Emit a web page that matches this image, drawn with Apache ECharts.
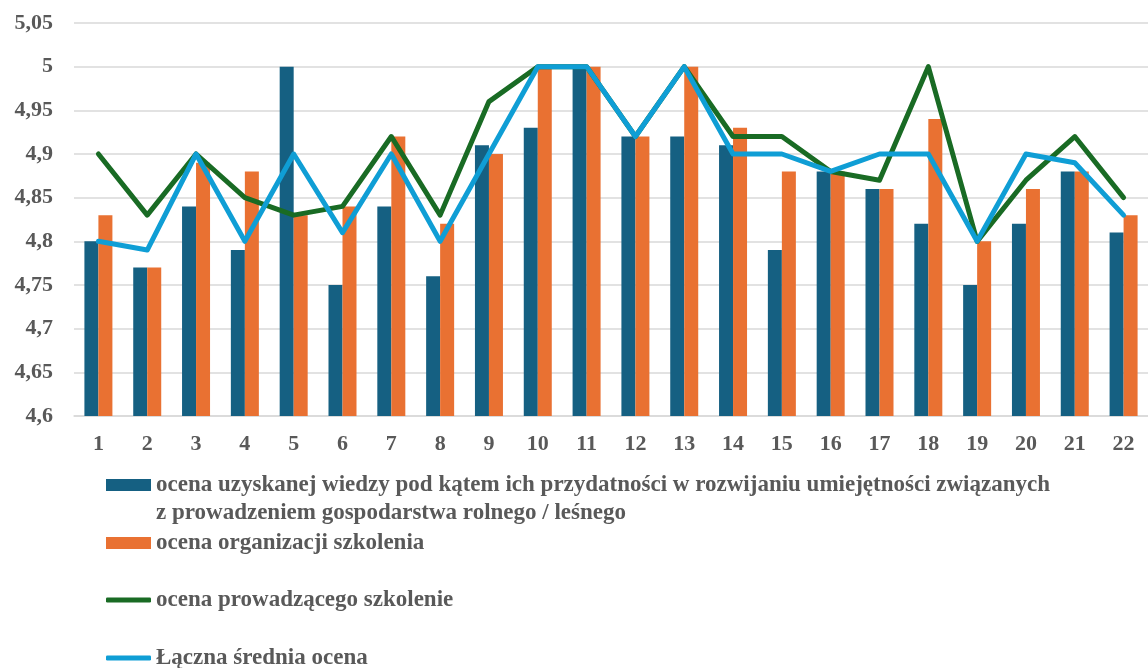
<!DOCTYPE html>
<html>
<head>
<meta charset="utf-8">
<title>Ocena szkoleń</title>
<script src="https://cdn.jsdelivr.net/npm/echarts@6/dist/echarts.min.js"></script>
<style>
  html, body { margin: 0; padding: 0; background: #fff; }
  #chart { width: 1148px; height: 668px; }
</style>
</head>
<body>
<div id="chart"></div>
<script>
// numery szkoleń
const categories = ['1', '2', '3', '4', '5', '6', '7', '8', '9', '10', '11',
  '12', '13', '14', '15', '16', '17', '18', '19', '20', '21', '22']

// ocena uzyskanej wiedzy
const knowledge = [4.80, 4.77, 4.84, 4.79, 5.00, 4.75, 4.84, 4.76, 4.91, 4.93, 5.00,
  4.92, 4.92, 4.91, 4.79, 4.88, 4.86, 4.82, 4.75, 4.82, 4.88, 4.81]
// ocena organizacji szkolenia
const organisation = [4.83, 4.77, 4.89, 4.88, 4.83, 4.84, 4.92, 4.82, 4.90, 5.00, 5.00,
  4.92, 5.00, 4.93, 4.88, 4.88, 4.86, 4.94, 4.80, 4.86, 4.88, 4.83]
// ocena prowadzącego
const trainer = [4.90, 4.83, 4.90, 4.85, 4.83, 4.84, 4.92, 4.83, 4.96, 5.00, 5.00,
  4.92, 5.00, 4.92, 4.92, 4.88, 4.87, 5.00, 4.80, 4.87, 4.92, 4.85]
// łączna średnia
const overall = [4.80, 4.79, 4.90, 4.80, 4.90, 4.81, 4.90, 4.80, 4.90, 5.00, 5.00,
  4.92, 5.00, 4.90, 4.90, 4.88, 4.90, 4.90, 4.80, 4.90, 4.89, 4.83]

const seriesNames = [
  'ocena uzyskanej wiedzy pod kątem ich przydatności w rozwijaniu umiejętności związanych\nz prowadzeniem gospodarstwa rolnego / leśnego',
  'ocena organizacji szkolenia',
  'ocena prowadzącego szkolenie',
  'Łączna średnia ocena'
]

const FONT = '"Liberation Serif", "Times New Roman", serif'
const TEXT = '#595959'

const chart = echarts.init(document.getElementById('chart'))

// legenda - każda pozycja osobno (top = środek ikony - 14)
const legendText = {
  color: TEXT,
  fontFamily: FONT,
  fontWeight: 'bold',
  fontSize: 23,
  lineHeight: 28
}
const legends = [
  // pusta pierwsza linia, żeby ikona stała przy pierwszym wierszu tekstu
  { top: 443, icon: 'rect', itemHeight: 12, name: seriesNames[0], fmt: n => '\n' + n },
  { top: 529, icon: 'rect', itemHeight: 12, name: seriesNames[1] },
  { top: 586, icon: 'roundRect', itemHeight: 5, name: seriesNames[2] },
  { top: 644, icon: 'roundRect', itemHeight: 5, name: seriesNames[3] }
].map(l => ({
  left: 106,
  top: l.top,
  padding: 0,
  icon: l.icon,
  itemWidth: 45,
  itemHeight: l.itemHeight,
  itemGap: 0,
  selectedMode: false,
  formatter: l.fmt || (n => n),
  textStyle: legendText,
  data: [l.name]
}))

const option = {
  animation: false,
  backgroundColor: '#fff',
  grid: {
    left: 74,
    right: -12,
    top: 23,
    height: 393,
    containLabel: false
  },
  legend: legends,
  xAxis: {
    type: 'category',
    data: categories,
    axisLine: { lineStyle: { color: '#d9d9d9', width: 1.5 } },
    axisTick: { show: false },
    axisLabel: {
      color: TEXT,
      fontFamily: FONT,
      fontWeight: 'bold',
      fontSize: 22,
      margin: 17
    }
  },
  yAxis: {
    type: 'value',
    min: 4.6,
    max: 5.05,
    interval: 0.05,
    axisLine: { show: false },
    axisTick: { show: false },
    splitLine: { lineStyle: { color: '#d9d9d9', width: 1.5 } },
    axisLabel: {
      color: TEXT,
      fontFamily: FONT,
      fontWeight: 'bold',
      fontSize: 22,
      margin: 21,
      formatter: v => String(Math.round(v * 100) / 100).replace('.', ',')
    }
  },
  series: [
    {
      name: seriesNames[0],
      type: 'bar',
      data: knowledge,
      barWidth: 14,
      barGap: '0%',
      itemStyle: { color: '#156082' }
    },
    {
      name: seriesNames[1],
      type: 'bar',
      data: organisation,
      barWidth: 14,
      barGap: '0%',
      itemStyle: { color: '#E97132' }
    },
    {
      name: seriesNames[2],
      type: 'line',
      data: trainer,
      symbol: 'none',
      lineStyle: { color: '#196B24', width: 5, cap: 'round', join: 'round' },
      itemStyle: { color: '#196B24' }
    },
    {
      name: seriesNames[3],
      type: 'line',
      data: overall,
      symbol: 'none',
      lineStyle: { color: '#0F9ED5', width: 5, cap: 'round', join: 'round' },
      itemStyle: { color: '#0F9ED5' }
    }
  ]
}

chart.setOption(option)
</script>
</body>
</html>
